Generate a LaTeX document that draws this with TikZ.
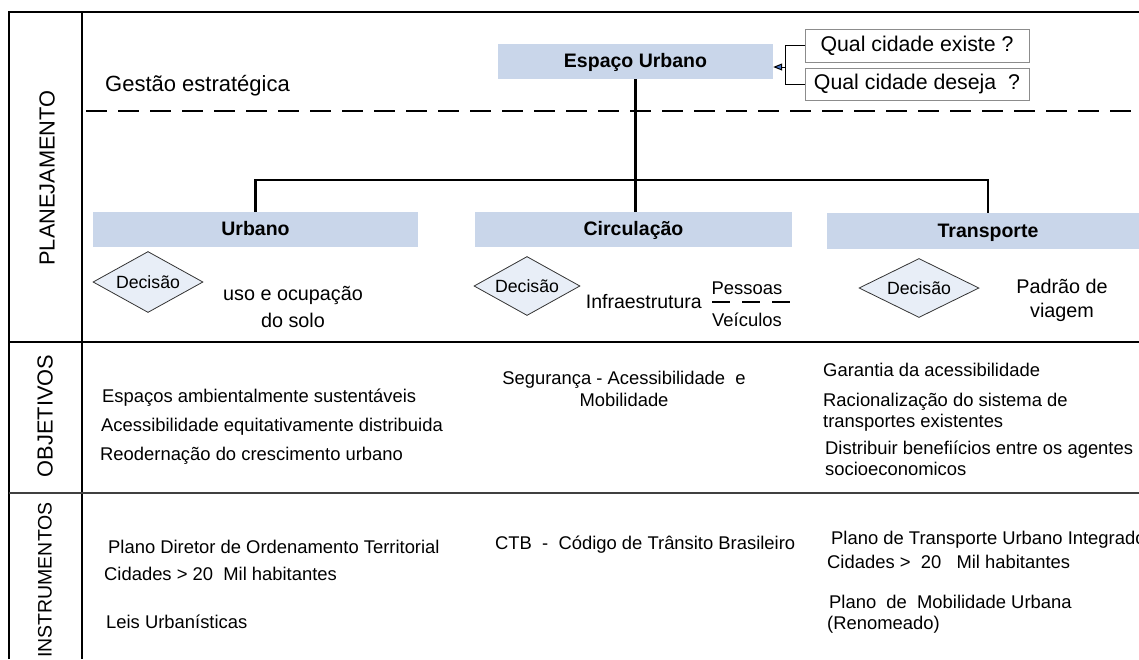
\documentclass[tikz,border=0pt]{standalone}
\usepackage{fontspec}
\setmainfont{Liberation Sans}
\usetikzlibrary{arrows.meta,shapes.geometric}
\definecolor{boxblue}{RGB}{201,214,234}
\definecolor{diablue}{RGB}{232,238,247}
\definecolor{tipblue}{RGB}{68,114,196}

\begin{document}
\begin{tikzpicture}[x=1pt,y=-1pt,
    head/.style={fill=boxblue, inner sep=0pt, text height=15pt, text depth=3pt, font=\fontsize{19.5}{23}\selectfont\bfseries},
    decision/.style={diamond, draw=black!80, fill=diablue, line width=0.8pt, inner sep=0pt, aspect=1.8, font=\fontsize{17.7}{21}\selectfont},
    question/.style={draw=black!45, line width=1pt, minimum width=224pt, inner sep=0pt, font=\fontsize{21.3}{25}\selectfont},
    rowname/.style={rotate=90, inner sep=0pt, font=\fontsize{21.8}{26}\selectfont},
    txt/.style={anchor=west, inner sep=0pt, align=left, font=\fontsize{18.4}{21}\selectfont},
    mid/.style={inner sep=0pt, align=center, font=\fontsize{19.8}{27}\selectfont},
    link/.style={line width=2.6pt}]
    %% Frame
    \useasboundingbox (0,0) rectangle (1139,659);
    \clip (0,0) rectangle (1139,659);
    \draw[line width=1.4pt] (9,659) -- (9,12) -- (1139,12);
    \draw[line width=1.4pt] (82,12) -- (82,659);
    \draw[line width=1.4pt] (9,342) -- (1139,342);
    \draw[line width=1.4pt, black!75] (9,493) -- (1139,493);
    \draw[line width=2.8pt, dash pattern=on 21pt off 11pt] (86,111) -- (1139,111);
    \node[rowname] (plan) at (47,178) {PLANEJAMENTO};
    \node[rowname] (obj) at (45,416) {OBJETIVOS};
    \node[rowname, font=\fontsize{19.5}{23}\selectfont] (ins) at (45,580) {INSTRUMENTOS};
    \node[anchor=west, inner sep=0pt, font=\fontsize{22}{26}\selectfont] (gest) at (105,86) {Gestão estratégica};

    %% Espaco urbano
    \node[head, minimum width=275pt, minimum height=35pt] (esp) at (635.5,61.5) {Espaço Urbano};
    \node[question, minimum height=33pt] (q1) at (917,45.5) {Qual cidade existe ?};
    \node[question, minimum height=32pt] (q2) at (917,84) {Qual cidade deseja\ \ ?};
    \coordinate (fork) at (785,67);
    \draw[line width=1pt] (q1.west) -| (fork) |- (q2.west);
    \draw[line width=1pt, -{Triangle[length=9pt,width=7pt,fill=tipblue]}] (fork) -- (esp.east |- fork);

    %% Heads
    \node[head, minimum width=325pt, minimum height=35pt] (urb) at (255.5,229.5) {Urbano};
    \node[head, minimum width=317pt, minimum height=35pt] (cir) at (633.5,229.5) {Circulação};
    \node[head, minimum width=322pt, minimum height=36pt] (tra) at (988,231) {Transporte};
    \coordinate (bar) at (0,180);
    \draw[link] (esp.south) -- (esp.south |- cir.north);
    \draw[link] (urb.north) -- (urb.north |- bar) -- (tra.north |- bar) -- (tra.north);

    %% Decisions
    \node[decision, minimum width=110pt, minimum height=61pt] (d1) at (148,282) {Decisão};
    \node[decision, minimum width=106pt, minimum height=59pt] (d2) at (527,286) {Decisão};
    \node[decision, minimum width=120pt, minimum height=59pt] (d3) at (919,288) {Decisão};
    \node[mid] (uso) at (293,306.5) {uso e ocupação\\do solo};
    \node[mid, anchor=east, font=\fontsize{19.5}{23}\selectfont] (infra) at (702,302) {Infraestrutura};
    \node[txt, anchor=center] (pes) at (747,288) {Pessoas};
    \node[txt, anchor=center] (vei) at (747,320) {Veículos};
    \draw[line width=2.6pt, dash pattern=on 18pt off 12pt] ([xshift=10pt]infra.east) -- ++(78,0);
    \node[mid, font=\fontsize{19.8}{24}\selectfont] (pad) at (1062,300) {Padrão de\\viagem};

    %% Objetivos
    \node[txt] (o1) at (102,398) {Espaços ambientalmente sustentáveis};
    \node[txt] (o2) at (101,427) {Acessibilidade equitativamente distribuida};
    \node[txt] (o3) at (100,456) {Reodernação do crescimento urbano};
    \node[txt, anchor=center, align=center, font=\fontsize{18.4}{22}\selectfont] (o4) at (624,389) {Segurança - Acessibilidade\ \ e\\Mobilidade};
    \node[txt] (o5) at (823,370) {Garantia da acessibilidade};
    \node[txt] (o6) at (823,412) {Racionalização do sistema de\\transportes existentes};
    \node[txt] (o7) at (825,458) {Distribuir benefiícios entre os agentes\\socioeconomicos};

    %% Instrumentos
    \node[txt] (i1) at (108,547) {Plano Diretor de Ordenamento Territorial};
    \node[txt] (i2) at (104,574) {Cidades > 20\ \ Mil habitantes};
    \node[txt] (i3) at (106,622) {Leis Urbanísticas};
    \node[txt] (i4) at (495,545) {CTB\ \ -\ \ Código de Trânsito Brasileiro};
    \node[txt] (i5) at (831,540) {Plano de Transporte Urbano Integrado};
    \node[txt] (i6) at (827,562) {Cidades >\ \ 20\ \ \ Mil habitantes};
    \node[txt] (i7) at (829,602) {Plano\ \ de\ \ Mobilidade Urbana};
    \node[txt] (i8) at (827,625) {(Renomeado)};
\end{tikzpicture}
\end{document}
